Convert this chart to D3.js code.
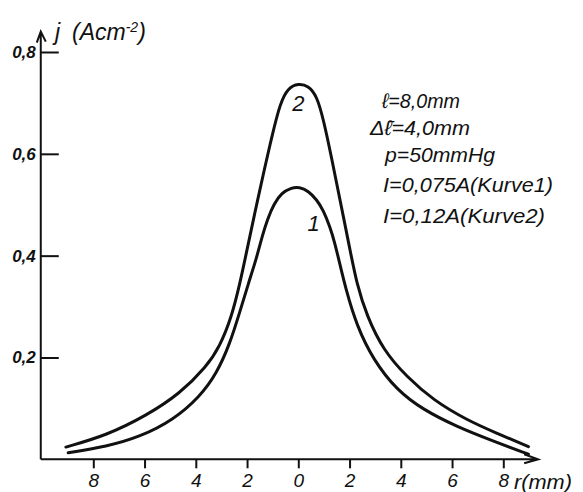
<!DOCTYPE html>
<html>
<head>
<meta charset="utf-8">
<script src="https://cdn.jsdelivr.net/npm/d3@7"></script>
<style>
  body { margin: 0; background: #fff; }
  svg { display: block; }
  text { font-family: "Liberation Sans", sans-serif; font-style: italic; fill: #111; }
</style>
</head>
<body>
<svg id="chart" width="583" height="492"></svg>
<script>
// radius r (mm) and current density j (A cm^-2)
const r1 = [-8.98, -7.48, -6.18, -4.88, -3.84, -3.19, -2.67, -2.28, -1.95, -1.63, -1.40, -1.20, -0.95, -0.65, -0.30, 0.05, 0.39, 0.72, 0.98, 1.24, 1.43, 1.60, 1.85, 2.28, 2.93, 3.84, 4.88, 6.19, 7.49, 8.98]
const j1 = [0.013, 0.025, 0.044, 0.077, 0.123, 0.168, 0.227, 0.290, 0.345, 0.395, 0.440, 0.472, 0.502, 0.523, 0.533, 0.535, 0.527, 0.510, 0.489, 0.456, 0.424, 0.388, 0.335, 0.262, 0.195, 0.136, 0.097, 0.064, 0.038, 0.010]
const r2 = [-9.07, -7.48, -5.92, -4.62, -3.58, -3.07, -2.60, -2.28, -2.02, -1.69, -1.30, -1.04, -0.71, -0.39, 0, 0.39, 0.72, 0.98, 1.30, 1.63, 2.02, 2.28, 2.67, 3.32, 4.23, 5.27, 6.58, 7.75, 8.98]
const j2 = [0.024, 0.047, 0.086, 0.129, 0.182, 0.221, 0.280, 0.345, 0.407, 0.486, 0.575, 0.632, 0.700, 0.730, 0.738, 0.734, 0.714, 0.668, 0.592, 0.509, 0.411, 0.345, 0.282, 0.214, 0.162, 0.116, 0.077, 0.051, 0.025]
const xTicks = [-8, -6, -4, -2, 0, 2, 4, 6, 8]
const yTicks = [0.2, 0.4, 0.6, 0.8]
const notes = ["ℓ=8,0mm", "Δℓ̄=4,0mm", "p=50mmHg", "I=0,075A(Kurve1)", "I=0,12A(Kurve2)"]

const svg = d3.select("#chart")
const x = d3.scaleLinear().domain([-8, 8]).range([93.3, 503.3])
const y = d3.scaleLinear().domain([0, 0.8]).range([459.3, 52])

const x0 = x(-10.05)   // where the vertical axis stands
const xEnd = x(9.36)   // arrow tip of the r axis
const yTop = y(0.84)   // arrow tip of the j axis

// axes lines with hand drawn arrows
svg.append("path")
    .attr("d", `M${x0},${y(0)} H${xEnd} M${xEnd - 14},${y(0) - 5} L${xEnd},${y(0)} L${xEnd - 14},${y(0) + 4}`)
    .attr("fill", "none").attr("stroke", "#111").attr("stroke-width", 2)
svg.append("path")
    .attr("d", `M${x0},${y(0)} V${yTop} M${x0 - 4},${yTop + 11} L${x0},${yTop} L${x0 + 5},${yTop + 10}`)
    .attr("fill", "none").attr("stroke", "#111").attr("stroke-width", 2)

const gx = svg.append("g")
    .attr("transform", `translate(0,${y(0)})`)
    .call(d3.axisBottom(x).tickValues(xTicks).tickSize(9).tickPadding(5)
        .tickFormat(d => Math.abs(d)))
gx.select(".domain").remove()
gx.selectAll("line").attr("stroke", "#111").attr("stroke-width", 2)
gx.selectAll("text").attr("font-size", 19).attr("font-family", "Liberation Sans")
    .attr("font-style", "italic").attr("fill", "#111")

const gy = svg.append("g")
    .attr("transform", `translate(${x0},0)`)
    .call(d3.axisLeft(y).tickValues(yTicks).tickSize(-18).tickPadding(5)
        .tickFormat(d => d.toFixed(1).replace(".", ",")))
gy.select(".domain").remove()
gy.selectAll("line").attr("stroke", "#111").attr("stroke-width", 2)
gy.selectAll("text").attr("font-size", 17).attr("font-weight", "bold")
    .attr("font-family", "Liberation Sans").attr("font-style", "italic").attr("fill", "#111")

// axis titles
svg.append("text").attr("x", 514).attr("y", 489).attr("font-size", 21)
    .attr("textLength", 58).attr("lengthAdjust", "spacingAndGlyphs")
    .text("r(mm)")
svg.append("text").attr("x", 55).attr("y", 40).attr("font-size", 23).text("j")
const ylab = svg.append("text").attr("x", 72).attr("y", 40).attr("font-size", 23)
ylab.append("tspan").text("(Acm")
ylab.append("tspan").attr("dy", -8).attr("font-size", 14).text("-2")
ylab.append("tspan").attr("dy", 8).text(")")

// curves
const line = d3.line().x(d => x(d[0])).y(d => y(d[1])).curve(d3.curveBasis)
const series = [d3.zip(r1, j1), d3.zip(r2, j2)]
svg.selectAll(".curve")
    .data(series)
    .enter()
    .append("path")
    .attr("class", "curve")
    .attr("d", line)
    .attr("fill", "none")
    .attr("stroke", "#111")
    .attr("stroke-width", 3)
    .attr("stroke-linecap", "round")

// curve numbers
svg.append("text").attr("x", x(0)).attr("y", y(0.684)).attr("text-anchor", "middle")
    .attr("font-size", 22).text("2")
svg.append("text").attr("x", x(0.6)).attr("y", y(0.448)).attr("text-anchor", "middle")
    .attr("font-size", 22).text("1")

// parameter notes
const noteX = [382, 370, 385, 383, 383]
const noteY = [108, 135, 162, 192, 223]
const noteW = [78, 100, 110, 170, 162]
svg.selectAll(".note")
    .data(notes)
    .enter()
    .append("text")
    .attr("class", "note")
    .attr("x", (d, i) => noteX[i])
    .attr("y", (d, i) => noteY[i])
    .attr("font-size", 21)
    .attr("textLength", (d, i) => noteW[i])
    .attr("lengthAdjust", "spacingAndGlyphs")
    .text(d => d)
</script>
</body>
</html>
